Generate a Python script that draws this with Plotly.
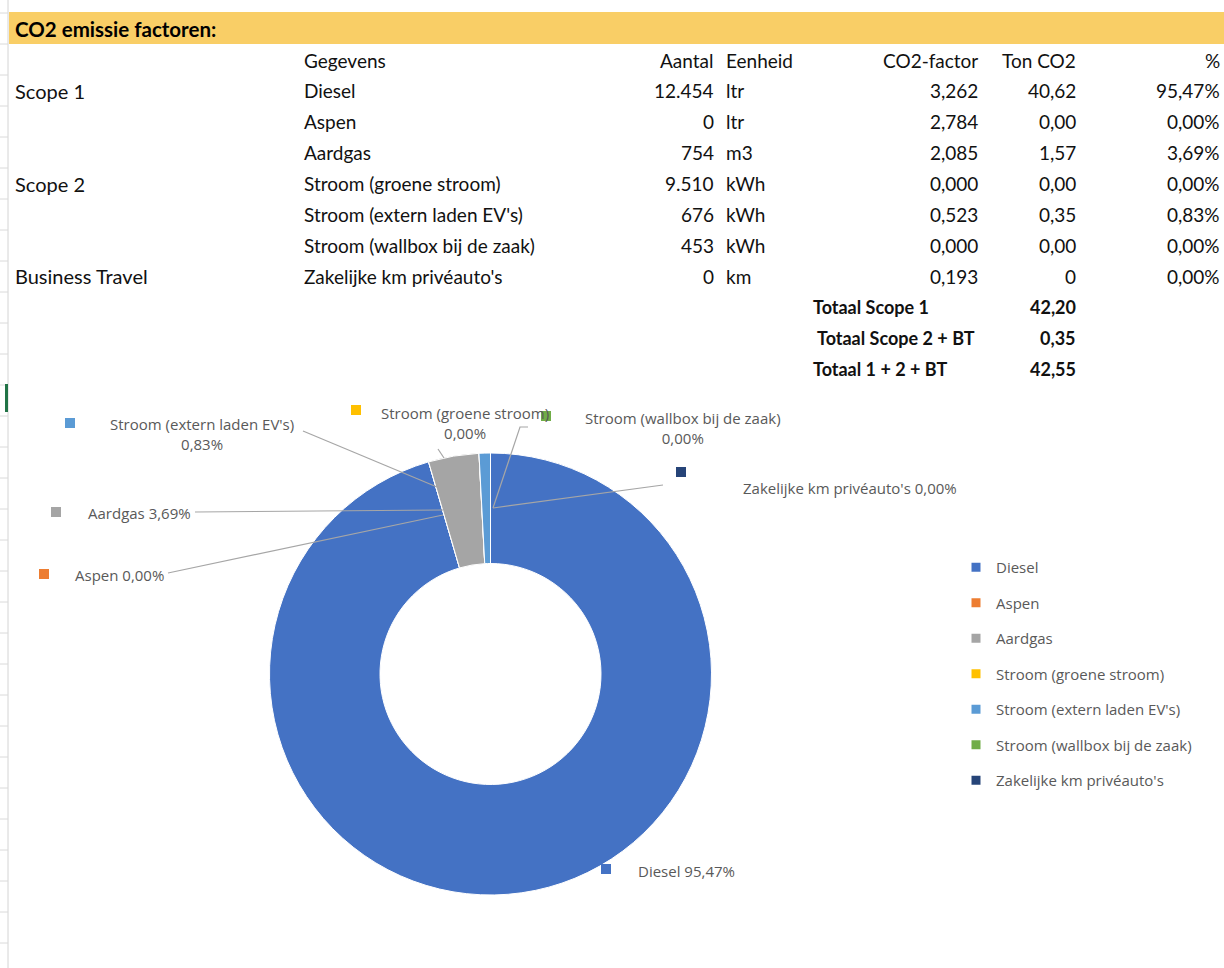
import plotly.graph_objects as go

# ---------------- data ----------------
title_text = "CO2 emissie factoren:"
header = ["Gegevens", "Aantal", "Eenheid", "CO2-factor", "Ton CO2", "%"]
scopes = ["Scope 1", "", "", "Scope 2", "", "", "Business Travel"]
gegevens = ["Diesel", "Aspen", "Aardgas", "Stroom (groene stroom)",
            "Stroom (extern laden EV's)", "Stroom (wallbox bij de zaak)",
            "Zakelijke km privéauto's"]
aantal = ["12.454", "0", "754", "9.510", "676", "453", "0"]
eenheid = ["ltr", "ltr", "m3", "kWh", "kWh", "kWh", "km"]
co2_factor = ["3,262", "2,784", "2,085", "0,000", "0,523", "0,000", "0,193"]
ton_co2 = ["40,62", "0,00", "1,57", "0,00", "0,35", "0,00", "0"]
pct_text = ["95,47%", "0,00%", "3,69%", "0,00%", "0,83%", "0,00%", "0,00%"]
pct_values = [95.47, 0.0, 3.69, 0.0, 0.83, 0.0, 0.0]
total_labels = ["Totaal Scope 1", "Totaal Scope 2 + BT", "Totaal 1 + 2 + BT"]
total_values = ["42,20", "0,35", "42,55"]

colors = ["#4472C4", "#ED7D31", "#A5A5A5", "#FFC000", "#5B9BD5", "#70AD47", "#264478"]

# ---------------- layout helpers ----------------
W, H = 1224, 968
def px(x):
    return x / W
def py(y):
    return 1 - y / H

TABLE_FONT = "Lato, 'Open Sans', sans-serif"
CHART_FONT = "'Open Sans', sans-serif"
LABEL_COLOR = "#595959"
LINE_COLOR = "#A6A6A6"

fig = go.Figure()

# donut
fig.add_trace(go.Pie(
    labels=gegevens, values=pct_values, hole=0.5, sort=False,
    direction="clockwise", rotation=0, textinfo="none",
    marker=dict(colors=colors, line=dict(color="white", width=1)),
    domain=dict(x=[px(268), px(713)], y=[py(895), py(453)]),
    showlegend=False,
))

# legend entries (one per category, for spaced legend)
for name, c in zip(gegevens, colors):
    fig.add_trace(go.Scatter(
        x=[None], y=[None], mode="markers", name=name, legendgroup=name,
        marker=dict(symbol="square", size=9, color=c),
    ))

annotations = []
shapes = []

# yellow header band
shapes.append(dict(type="rect", xref="paper", yref="paper",
                   x0=px(9), x1=px(1224), y0=py(44), y1=py(12),
                   fillcolor="#F9CE66", line=dict(width=0), layer="below"))
annotations.append(dict(x=px(13), y=py(29), xref="paper", yref="paper",
                        text="<b>" + title_text + "</b>", showarrow=False,
                        xanchor="left", yanchor="middle",
                        font=dict(family=TABLE_FONT, size=20.5, color="#000000")))

# left spreadsheet edge
shapes.append(dict(type="line", xref="paper", yref="paper",
                   x0=px(8), x1=px(8), y0=0, y1=1,
                   line=dict(color="#D4D4D4", width=1)))
yy = 13
while yy < H:
    shapes.append(dict(type="line", xref="paper", yref="paper",
                       x0=0, x1=px(8), y0=py(yy), y1=py(yy),
                       line=dict(color="#DADADA", width=1)))
    yy += 31
shapes.append(dict(type="rect", xref="paper", yref="paper",
                   x0=px(5), x1=px(8), y0=py(412), y1=py(384),
                   fillcolor="#217346", line=dict(width=0)))

# table
row0, pitch = 60, 30.9
col_spec = [  # (x position, anchor)
    (302, "left"), (716, "right"), (724, "left"), (980, "right"), (1078, "right"), (1222, "right"),
]

def tann(x, y, text, anchor, bold=False, size=19):
    annotations.append(dict(x=px(x), y=py(y), xref="paper", yref="paper",
                            text=("<b>%s</b>" % text) if bold else text,
                            showarrow=False, xanchor=anchor, yanchor="middle",
                            font=dict(family=TABLE_FONT, size=size, color="#111111")))

for (x, a), h in zip(col_spec, header):
    tann(x, row0, h, a)

columns = [gegevens, aantal, eenheid, co2_factor, ton_co2, pct_text]
for i in range(len(gegevens)):
    y = row0 + pitch * (i + 1)
    if scopes[i]:
        tann(13, y, scopes[i], "left", size=20)
    for (x, a), col in zip(col_spec, columns):
        tann(x, y, col[i], a)

total_x = [811, 815, 811]
for j, (lab, val) in enumerate(zip(total_labels, total_values)):
    y = row0 + pitch * (len(gegevens) + 1 + j)
    tann(total_x[j], y, lab, "left", bold=True, size=18)
    tann(1078, y, val, "right", bold=True, size=18)

# data labels around donut: (square x, square y, text x, text y, anchor, two-line)
label_layout = [
    (606, 869, 636, 871, "left", False),    # Diesel
    (44, 574, 73, 575, "left", False),      # Aspen
    (56, 512, 86, 513, "left", False),      # Aardgas
    (356, 410, 465, 423, "center", True),   # groene stroom
    (70, 423, 202, 434, "center", True),    # extern laden
    (546, 416, 683, 428, "center", True),   # wallbox
    (681, 472, 741, 488, "left", False),    # zakelijke km
]
leader_paths = [
    None,
    [(168, 573), (443, 515)],
    [(195, 512), (443, 510)],
    [(438, 449), (444, 458)],
    [(303, 431), (437, 487)],
    [(528, 427), (520, 427), (493, 508)],
    [(663, 485), (493, 508)],
]

for i, (sx, sy, tx, ty, anc, two) in enumerate(label_layout):
    shapes.append(dict(type="rect", xref="paper", yref="paper",
                       x0=px(sx - 5), x1=px(sx + 5), y0=py(sy + 5), y1=py(sy - 5),
                       fillcolor=colors[i], line=dict(width=0)))
    sep = "<br>" if two else " "
    annotations.append(dict(x=px(tx), y=py(ty), xref="paper", yref="paper",
                            text=gegevens[i] + sep + pct_text[i], showarrow=False,
                            xanchor=anc, yanchor="middle", align="center",
                            font=dict(family=CHART_FONT, size=15, color=LABEL_COLOR)))
    pts = leader_paths[i]
    if pts:
        path = "M " + " L ".join("%f,%f" % (px(a), py(b)) for a, b in pts)
        shapes.append(dict(type="path", xref="paper", yref="paper", path=path,
                           line=dict(color=LINE_COLOR, width=1.2)))

fig.update_layout(
    width=W, height=H,
    margin=dict(l=0, r=0, t=0, b=0),
    paper_bgcolor="white", plot_bgcolor="white",
    xaxis=dict(visible=False, domain=[0.99, 1.0]),
    yaxis=dict(visible=False, domain=[0.0, 0.01]),
    shapes=shapes, annotations=annotations,
    legend=dict(x=px(956), y=py(551), xanchor="left", yanchor="top",
                traceorder="grouped", tracegroupgap=13,
                font=dict(family=CHART_FONT, size=15, color=LABEL_COLOR),
                bgcolor="rgba(0,0,0,0)", itemclick=False),
    showlegend=True,
)

fig.write_html(
    "out.html",
    config={"displayModeBar": False},
    post_script="document.body.style.margin='0';document.documentElement.style.overflow='hidden';",
)
